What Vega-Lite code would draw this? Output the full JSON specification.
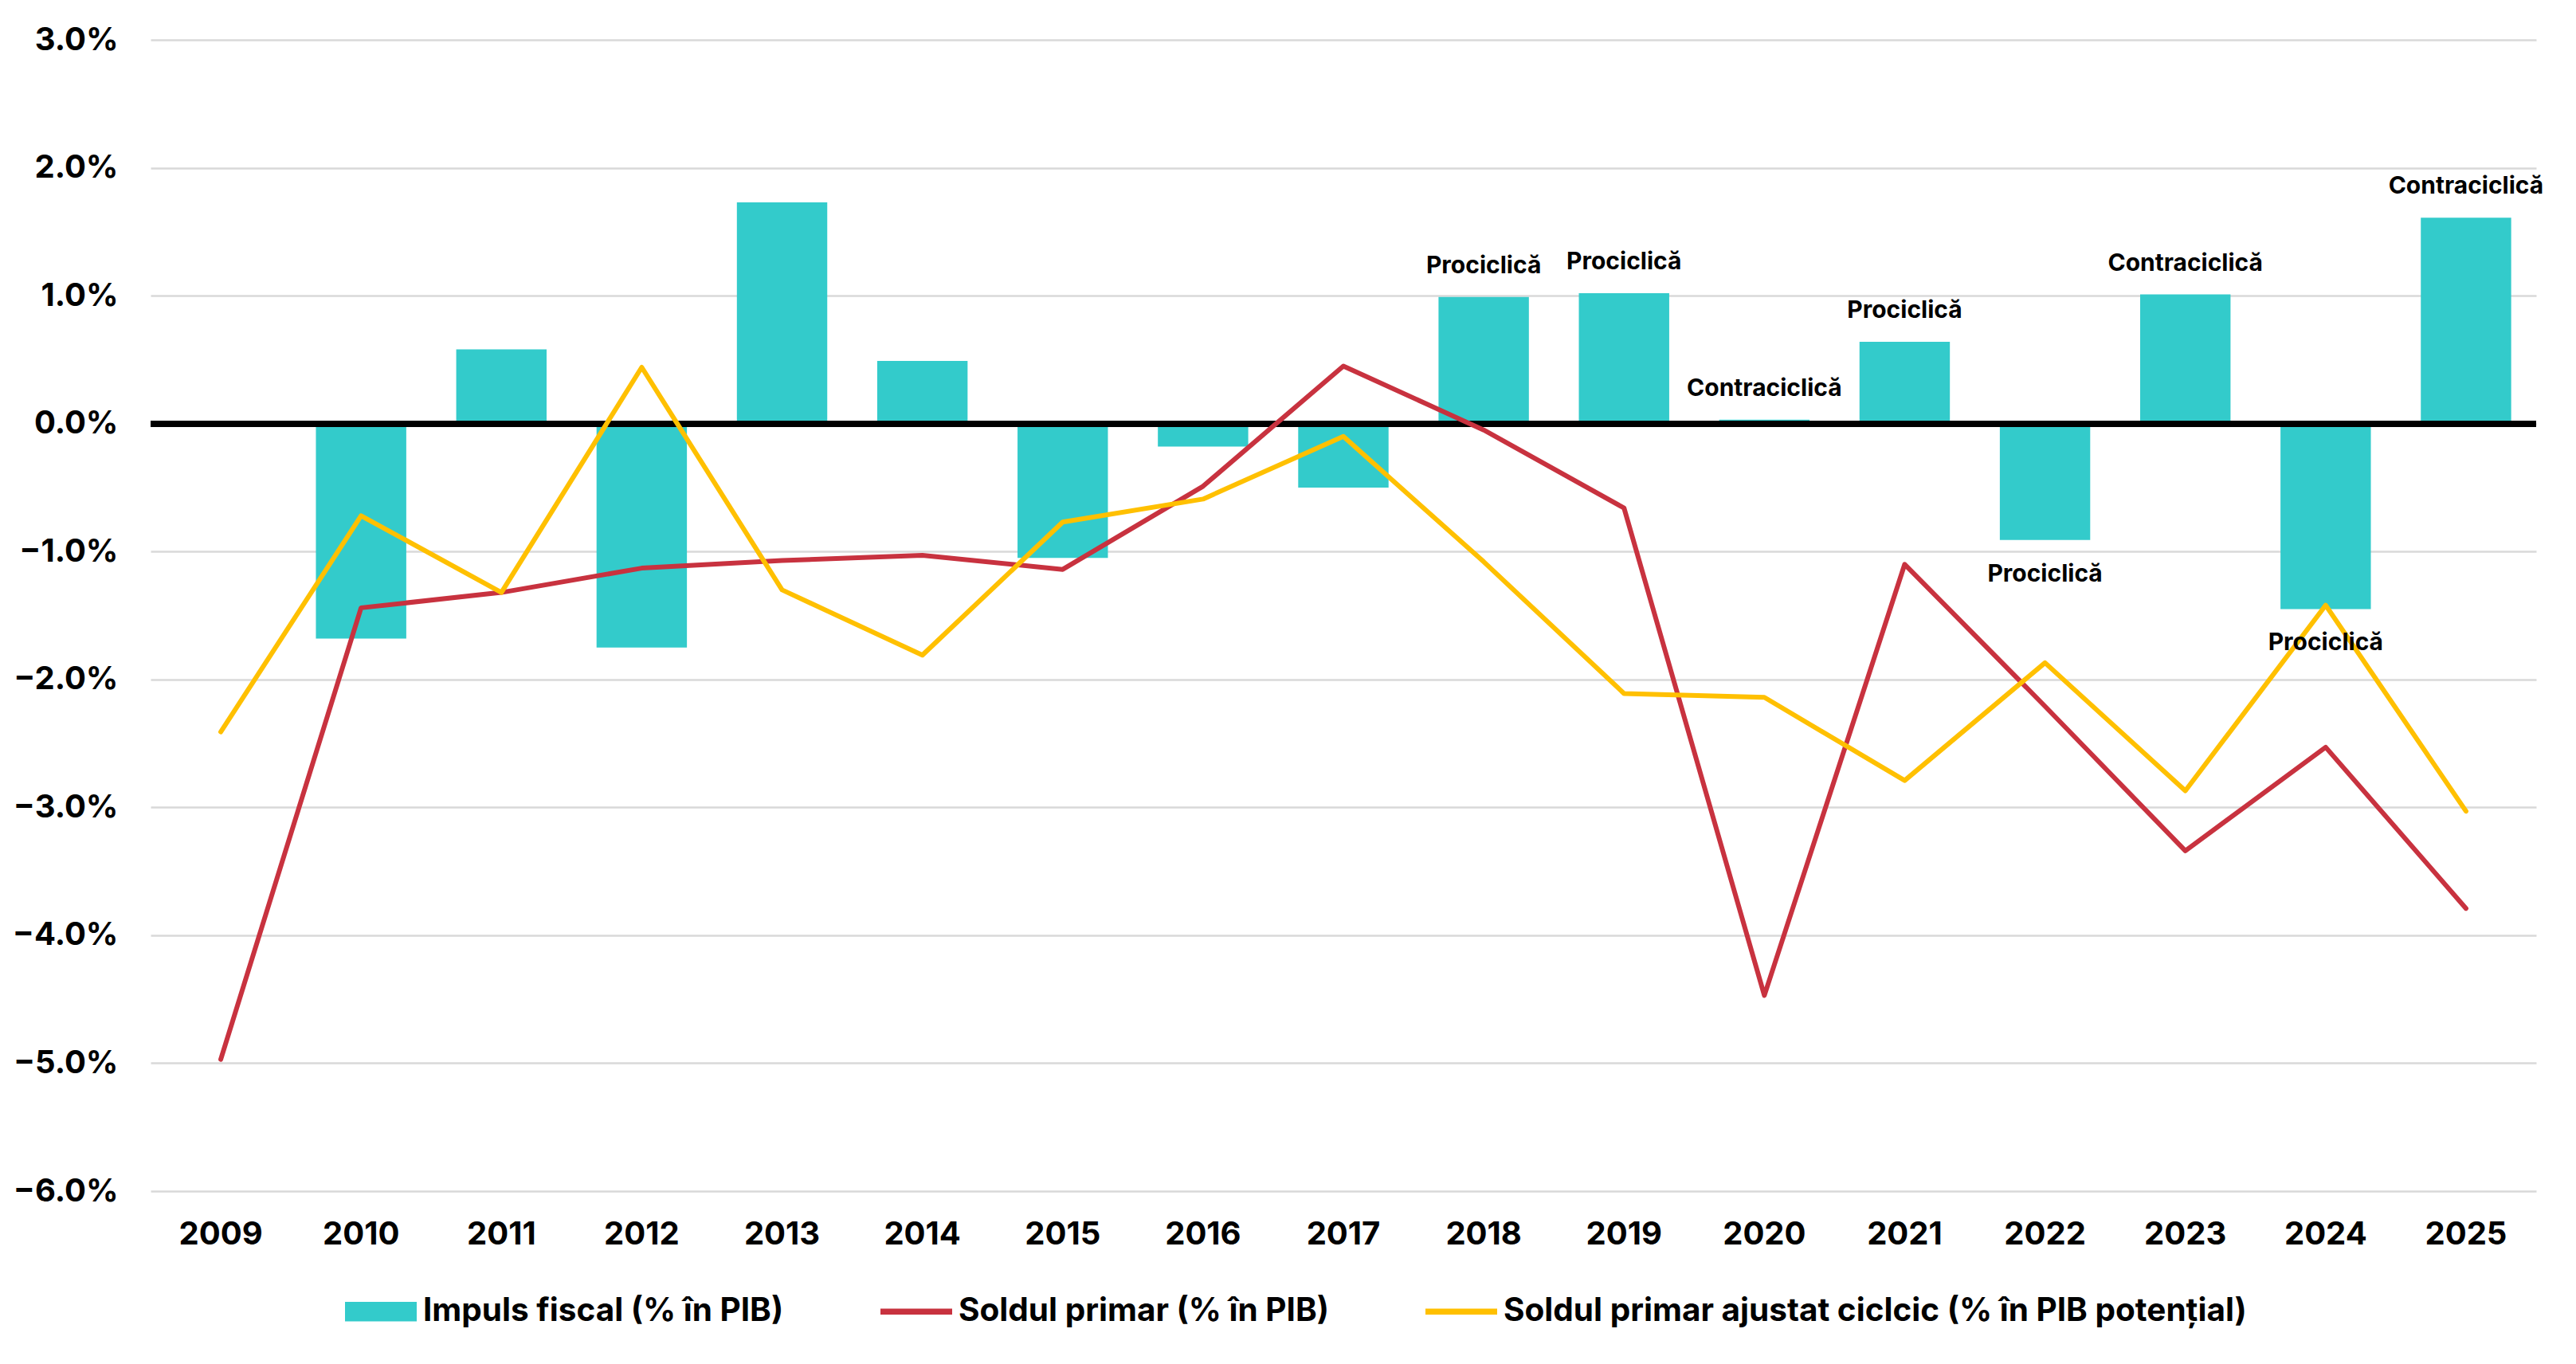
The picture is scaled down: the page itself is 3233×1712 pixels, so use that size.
{
  "$schema": "https://vega.github.io/schema/vega-lite/v6.json",
  "width": 2994,
  "height": 1445,
  "autosize": {"type": "none"},
  "padding": {"left": 189, "top": 50, "right": 50, "bottom": 217},
  "background": "white",
  "config": {"view": {"stroke": null}, "font": "Inter"},
  "data": {
    "values": [
      {"year": 2010, "series": "Impuls fiscal (% în PIB)", "value": -1.68, "label": null},
      {"year": 2011, "series": "Impuls fiscal (% în PIB)", "value": 0.58, "label": null},
      {"year": 2012, "series": "Impuls fiscal (% în PIB)", "value": -1.75, "label": null},
      {"year": 2013, "series": "Impuls fiscal (% în PIB)", "value": 1.73, "label": null},
      {"year": 2014, "series": "Impuls fiscal (% în PIB)", "value": 0.49, "label": null},
      {"year": 2015, "series": "Impuls fiscal (% în PIB)", "value": -1.05, "label": null},
      {"year": 2016, "series": "Impuls fiscal (% în PIB)", "value": -0.18, "label": null},
      {"year": 2017, "series": "Impuls fiscal (% în PIB)", "value": -0.50, "label": null},
      {"year": 2018, "series": "Impuls fiscal (% în PIB)", "value": 0.99, "label": "Prociclică"},
      {"year": 2019, "series": "Impuls fiscal (% în PIB)", "value": 1.02, "label": "Prociclică"},
      {"year": 2020, "series": "Impuls fiscal (% în PIB)", "value": 0.03, "label": "Contraciclică"},
      {"year": 2021, "series": "Impuls fiscal (% în PIB)", "value": 0.64, "label": "Prociclică"},
      {"year": 2022, "series": "Impuls fiscal (% în PIB)", "value": -0.91, "label": "Prociclică"},
      {"year": 2023, "series": "Impuls fiscal (% în PIB)", "value": 1.01, "label": "Contraciclică"},
      {"year": 2024, "series": "Impuls fiscal (% în PIB)", "value": -1.45, "label": "Prociclică"},
      {"year": 2025, "series": "Impuls fiscal (% în PIB)", "value": 1.61, "label": "Contraciclică"},
      {"year": 2009, "series": "Soldul primar (% în PIB)", "value": -4.97},
      {"year": 2010, "series": "Soldul primar (% în PIB)", "value": -1.44},
      {"year": 2011, "series": "Soldul primar (% în PIB)", "value": -1.32},
      {"year": 2012, "series": "Soldul primar (% în PIB)", "value": -1.13},
      {"year": 2013, "series": "Soldul primar (% în PIB)", "value": -1.07},
      {"year": 2014, "series": "Soldul primar (% în PIB)", "value": -1.03},
      {"year": 2015, "series": "Soldul primar (% în PIB)", "value": -1.14},
      {"year": 2016, "series": "Soldul primar (% în PIB)", "value": -0.49},
      {"year": 2017, "series": "Soldul primar (% în PIB)", "value": 0.45},
      {"year": 2018, "series": "Soldul primar (% în PIB)", "value": -0.05},
      {"year": 2019, "series": "Soldul primar (% în PIB)", "value": -0.66},
      {"year": 2020, "series": "Soldul primar (% în PIB)", "value": -4.47},
      {"year": 2021, "series": "Soldul primar (% în PIB)", "value": -1.10},
      {"year": 2022, "series": "Soldul primar (% în PIB)", "value": -2.21},
      {"year": 2023, "series": "Soldul primar (% în PIB)", "value": -3.34},
      {"year": 2024, "series": "Soldul primar (% în PIB)", "value": -2.53},
      {"year": 2025, "series": "Soldul primar (% în PIB)", "value": -3.79},
      {"year": 2009, "series": "Soldul primar ajustat ciclcic (% în PIB potențial)", "value": -2.41},
      {"year": 2010, "series": "Soldul primar ajustat ciclcic (% în PIB potențial)", "value": -0.72},
      {"year": 2011, "series": "Soldul primar ajustat ciclcic (% în PIB potențial)", "value": -1.32},
      {"year": 2012, "series": "Soldul primar ajustat ciclcic (% în PIB potențial)", "value": 0.44},
      {"year": 2013, "series": "Soldul primar ajustat ciclcic (% în PIB potențial)", "value": -1.30},
      {"year": 2014, "series": "Soldul primar ajustat ciclcic (% în PIB potențial)", "value": -1.81},
      {"year": 2015, "series": "Soldul primar ajustat ciclcic (% în PIB potențial)", "value": -0.77},
      {"year": 2016, "series": "Soldul primar ajustat ciclcic (% în PIB potențial)", "value": -0.59},
      {"year": 2017, "series": "Soldul primar ajustat ciclcic (% în PIB potențial)", "value": -0.10},
      {"year": 2018, "series": "Soldul primar ajustat ciclcic (% în PIB potențial)", "value": -1.08},
      {"year": 2019, "series": "Soldul primar ajustat ciclcic (% în PIB potențial)", "value": -2.11},
      {"year": 2020, "series": "Soldul primar ajustat ciclcic (% în PIB potențial)", "value": -2.14},
      {"year": 2021, "series": "Soldul primar ajustat ciclcic (% în PIB potențial)", "value": -2.79},
      {"year": 2022, "series": "Soldul primar ajustat ciclcic (% în PIB potențial)", "value": -1.87},
      {"year": 2023, "series": "Soldul primar ajustat ciclcic (% în PIB potențial)", "value": -2.87},
      {"year": 2024, "series": "Soldul primar ajustat ciclcic (% în PIB potențial)", "value": -1.42},
      {"year": 2025, "series": "Soldul primar ajustat ciclcic (% în PIB potențial)", "value": -3.03}
    ]
  },
  "encoding": {
    "x": {
      "field": "year",
      "type": "ordinal",
      "scale": {"paddingInner": 0.356, "paddingOuter": 0.178},
      "axis": {
        "title": null,
        "labelAngle": 0,
        "ticks": false,
        "tickSize": 0,
        "domain": false,
        "grid": false,
        "labelFont": "Inter",
        "labelFontWeight": "bold",
        "labelFontSize": 40,
        "labelColor": "black",
        "labelPadding": 34
      }
    }
  },
  "layer": [
    {
      "transform": [{"filter": "datum.series === 'Impuls fiscal (% în PIB)'"}],
      "mark": {"type": "bar"},
      "encoding": {
        "y": {
          "field": "value",
          "type": "quantitative",
          "scale": {"domain": [-6, 3], "nice": false, "zero": false},
          "axis": {
            "title": null,
            "values": [-6, -5, -4, -3, -2, -1, 0, 1, 2, 3],
            "labelExpr": "format(datum.value, '.1f') + '%'",
            "ticks": false,
            "tickSize": 0,
            "domain": false,
            "grid": true,
            "gridColor": "#d9d9d9",
            "gridWidth": 2.5,
            "labelFont": "Inter",
            "labelFontWeight": "bold",
            "labelFontSize": 40,
            "labelColor": "black",
            "labelPadding": 41
          }
        },
        "color": {
          "field": "series",
          "type": "nominal",
          "scale": {
            "domain": ["Impuls fiscal (% în PIB)", "Soldul primar (% în PIB)", "Soldul primar ajustat ciclcic (% în PIB potențial)"],
            "range": ["#33CBCB", "#C8323F", "#FFC000"]
          },
          "legend": {
            "orient": "none",
            "legendX": 244,
            "legendY": 1551,
            "direction": "horizontal",
            "title": null,
            "padding": 0,
            "symbolType": "square",
            "symbolSize": 8100,
            "labelFont": "Inter",
            "labelFontWeight": "bold",
            "labelFontSize": 40.5,
            "labelColor": "black",
            "labelOffset": 8,
            "labelLimit": 2000,
            "columnPadding": 121,
            "encode": {
              "symbols": {
                "update": {
                  "shape": {"signal": "datum.value === 'Impuls fiscal (% în PIB)' ? 'M-1,-0.27H1V0.27H-1Z' : 'M-1,-0.085H1V0.085H-1Z'"},
                  "fill": {"scale": "color", "field": "value"},
                  "stroke": {"value": "transparent"},
                  "strokeWidth": {"value": 0},
                  "opacity": {"value": 1}
                }
              }
            }
          }
        }
      }
    },
    {
      "mark": {"type": "rule", "color": "black", "strokeWidth": 7},
      "encoding": {"y": {"datum": 0, "type": "quantitative"}, "x": null}
    },
    {
      "transform": [{"filter": "datum.series !== 'Impuls fiscal (% în PIB)'"}],
      "mark": {"type": "line", "strokeWidth": 6, "strokeCap": "round", "strokeJoin": "round"},
      "encoding": {
        "y": {"field": "value", "type": "quantitative"},
        "color": {"field": "series", "type": "nominal"}
      }
    },
    {
      "transform": [{"filter": "datum.label != null && datum.value >= 0"}],
      "mark": {"type": "text", "font": "Inter", "fontWeight": "bold", "fontSize": 30, "color": "black", "baseline": "alphabetic", "dy": -30},
      "encoding": {
        "y": {"field": "value", "type": "quantitative"},
        "text": {"field": "label"}
      }
    },
    {
      "transform": [{"filter": "datum.label != null && datum.value < 0"}],
      "mark": {"type": "text", "font": "Inter", "fontWeight": "bold", "fontSize": 30, "color": "black", "baseline": "top", "dy": 28},
      "encoding": {
        "y": {"field": "value", "type": "quantitative"},
        "text": {"field": "label"}
      }
    }
  ]
}
